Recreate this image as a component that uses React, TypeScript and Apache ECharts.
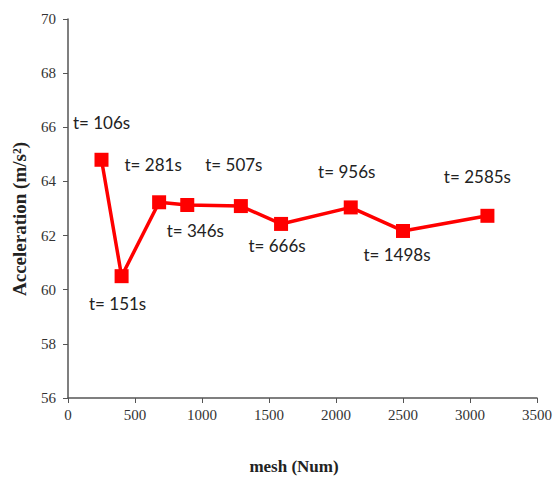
import React, { useEffect, useRef } from "react";
import * as echarts from "echarts";

const meshValues = [250, 400, 680, 890, 1290, 1590, 2110, 2500, 3130];
const accelValues = [64.8, 60.5, 63.23, 63.13, 63.09, 62.43, 63.04, 62.17, 62.73];
const timeLabels = ["t= 106s", "t= 151s", "t= 281s", "t= 346s", "t= 507s", "t= 666s", "t= 956s", "t= 1498s", "t= 2585s"];
const labelOffsets: [number, number][] = [
  [0, -37], [-4, 27], [-6, -38], [8, 26], [-7, -42], [-4, 22], [-4, -36], [-6, 24], [-10, -39],
];

export default function App() {
  const ref = useRef<HTMLDivElement>(null);
  useEffect(() => {
    if (!ref.current) return;
    const chart = echarts.init(ref.current, null, { renderer: "svg" });
    const axisColor = "#555";
    const tickFont = {
      color: "#333",
      fontFamily: "Liberation Serif",
      fontSize: 15,
    };
    chart.setOption({
      animation: false,
      backgroundColor: "#fff",
      grid: { left: 68, top: 19, right: 17, bottom: 79, containLabel: false },
      graphic: [
        {
          type: "text",
          x: 19,
          y: 219,
          rotation: Math.PI / 2,
          style: {
            text: "Acceleration (m/s²)",
            fontFamily: "Liberation Serif",
            fontWeight: "bold",
            fontSize: 19,
            fill: "#222",
            align: "center",
            verticalAlign: "middle",
          },
        },
        {
          type: "text",
          x: 294,
          y: 466,
          style: {
            text: "mesh (Num)",
            fontFamily: "Liberation Serif",
            fontWeight: "bold",
            fontSize: 17,
            fill: "#222",
            align: "center",
            verticalAlign: "middle",
          },
        },
      ],
      xAxis: {
        type: "value",
        min: 0,
        max: 3500,
        interval: 500,
        axisLine: { show: true, lineStyle: { color: axisColor, width: 1.5 } },
        axisTick: { show: true, inside: false, length: 5, lineStyle: { color: axisColor } },
        axisLabel: { ...tickFont, margin: 9, formatter: (v: number) => String(v) },
        splitLine: { show: false },
      },
      yAxis: {
        type: "value",
        min: 56,
        max: 70,
        interval: 2,
        axisLine: { show: true, lineStyle: { color: axisColor, width: 1.5 } },
        axisTick: { show: true, inside: false, length: 5, lineStyle: { color: axisColor } },
        axisLabel: { ...tickFont, margin: 12 },
        splitLine: { show: false },
      },
      series: [
        {
          type: "line",
          data: meshValues.map((x, i) => ({
            value: [x, accelValues[i]],
            label: {
              show: true,
              position: "inside",
              offset: labelOffsets[i],
              formatter: timeLabels[i],
            },
          })),
          symbol: "rect",
          symbolSize: 14,
          lineStyle: { color: "#ff0000", width: 3.5 },
          itemStyle: { color: "#ff0000" },
          label: {
            color: "#222",
            fontFamily: "Lato",
            fontSize: 17,
          },
        },
      ],
    });
    return () => chart.dispose();
  }, []);
  return (
    <div
      ref={ref}
      style={{ position: "fixed", left: 0, top: 0, width: 555, height: 477 }}
    />
  );
}
